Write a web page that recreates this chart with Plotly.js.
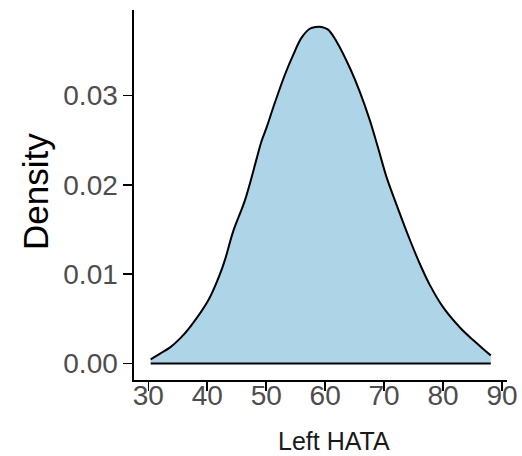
<!DOCTYPE html>
<html>
<head>
<meta charset="utf-8">
<script src="https://cdn.plot.ly/plotly-3.0.1.min.js"></script>
<style>html,body{margin:0;padding:0;background:#fff;}#chart{width:522px;height:456px;}</style>
</head>
<body>
<div id="chart"></div>
<script>
// Left HATA values (x) and estimated kernel density (y)
var hataX = [30.4, 32.0, 33.7, 35.4, 37.1, 40.2, 42.15, 43.0, 44.4, 46.4, 48.4, 49.2, 50.1, 51.2, 53.2, 54.6, 56.0, 57.4, 58.4, 59.4, 60.5, 61.9, 64.2, 65.9, 67.6, 69.0, 70.4, 72.1, 74.4, 76.3, 77.75, 80.0, 82.9, 85.3, 87.0, 88.1];
var densityY = [0.00045, 0.0011, 0.0018, 0.0028, 0.0041, 0.0071, 0.0100, 0.0116, 0.0148, 0.0183, 0.0230, 0.0249, 0.0265, 0.0287, 0.0324, 0.0346, 0.0365, 0.0375, 0.0377, 0.0377, 0.0374, 0.0361, 0.0331, 0.0304, 0.0272, 0.0241, 0.0209, 0.0178, 0.0138, 0.0108, 0.0088, 0.0063, 0.0040, 0.0025, 0.0015, 0.0009];
var xTicks = [30, 40, 50, 60, 70, 80, 90];
var yTicks = [0, 0.01, 0.02, 0.03];
var yTickText = ["0.00", "0.01", "0.02", "0.03"];

var fontFam = "Liberation Sans, Arial, Helvetica, sans-serif";

var curve = {
  x: hataX, y: densityY, type: "scatter", mode: "lines",
  fill: "tozeroy", fillcolor: "#aed4e8",
  line: {color: "#000", width: 2, shape: "spline", smoothing: 1},
  hoverinfo: "skip"
};
var baseline = {
  x: [hataX[0], hataX[hataX.length - 1]], y: [0, 0],
  type: "scatter", mode: "lines",
  line: {color: "#000", width: 2}, hoverinfo: "skip"
};

var W = 522, H = 456, L = 134, R = 15, T = 10, B = 76;
var pw = W - L - R, ph = H - T - B;

var layout = {
  width: W, height: H,
  margin: {l: L, r: R, t: T, b: B, pad: 0},
  paper_bgcolor: "#fff", plot_bgcolor: "#fff",
  showlegend: false,
  font: {family: fontFam},
  xaxis: {
    range: [27.57, 90.85], tickvals: xTicks, ticktext: xTicks.map(String),
    showgrid: false, zeroline: false, showline: true, linecolor: "#000", linewidth: 1.6,
    ticks: "outside", ticklen: 9, tickwidth: 1.6, tickcolor: "#000",
    ticklabelstandoff: -19,
    tickfont: {size: 28, color: "#4d4d4d", family: fontFam}
  },
  yaxis: {
    range: [-0.00186, 0.0396], tickvals: yTicks, ticktext: yTickText,
    showgrid: false, zeroline: false, showline: true, linecolor: "#000", linewidth: 1.6,
    ticks: "outside", ticklen: 9, tickwidth: 1.6, tickcolor: "#000",
    tickfont: {size: 28, color: "#4d4d4d", family: fontFam}
  },
  annotations: [
    {text: "Density", xref: "paper", yref: "paper",
     x: (35 - L) / pw, y: (H - B - 192) / ph, xanchor: "center", yanchor: "middle",
     textangle: -90, showarrow: false, font: {size: 35, color: "#000", family: fontFam}},
    {text: "Left HATA", xref: "paper", yref: "paper",
     x: (334 - L) / pw, y: (H - B - 440.5) / ph, xanchor: "center", yanchor: "middle",
     showarrow: false, font: {size: 25, color: "#1a1a1a", family: fontFam}}
  ]
};

Plotly.newPlot("chart", [curve, baseline], layout, {staticPlot: true, displayModeBar: false});
</script>
</body>
</html>
